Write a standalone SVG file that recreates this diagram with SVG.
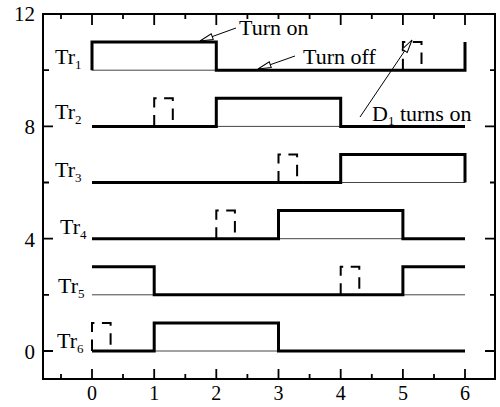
<svg xmlns="http://www.w3.org/2000/svg" width="500" height="407" viewBox="0 0 500 407">
<style>
text{font-family:"Liberation Serif","Times New Roman",serif;fill:#000}
.lbl{font-size:22px}
.sub{font-size:13px}
.num{font-size:21px}
.xnum{font-size:20px;text-anchor:middle}
.ynum{font-size:21px;text-anchor:end}
.ann{font-size:22px}
.wave{fill:none;stroke:#000;stroke-width:3;stroke-linejoin:miter}
.base{fill:none;stroke:#444;stroke-width:1}
.dash{fill:none;stroke:#000;stroke-width:2;stroke-dasharray:11.5 7.5}
.axis{fill:none;stroke:#000;stroke-width:2}
.tick{fill:none;stroke:#000;stroke-width:1.8}
.arrow{fill:none;stroke:#000;stroke-width:1;marker-end:url(#ah)}
</style>
<defs>
<marker id="ah" markerWidth="15" markerHeight="9" refX="14" refY="4.5" orient="auto" markerUnits="userSpaceOnUse">
<path d="M1,1.5 L14,4.5 L1,7.5 Z" fill="#fff" stroke="#000" stroke-width="1"/>
</marker>
</defs>
<rect x="0" y="0" width="500" height="407" fill="#fff"/>

<g id="axes">
<rect class="axis" x="43" y="14" width="452" height="365"/>
<path class="tick" d="M61,14v5 M92,14v11 M123,14v5 M154.2,14v11 M185.3,14v5 M216.3,14v11 M247.4,14v5 M278.5,14v5 M309.6,14v5 M340.7,14v11 M371.8,14v5 M402.9,14v11 M434,14v5 M465,14v11"/>
<path class="tick" d="M61,379v-5 M92,379v-10 M123,379v-5 M154.2,379v-10 M185.3,379v-5 M216.3,379v-10 M247.4,379v-5 M278.5,379v-10 M309.6,379v-5 M340.7,379v-10 M371.8,379v-5 M402.9,379v-10 M434,379v-5 M465,379v-10"/>
<path class="tick" d="M43,70.2h6 M43,126.4h10 M43,182.5h6 M43,238.7h10 M43,294.8h6 M43,351h10"/>
<path class="tick" d="M495,70.2h-5 M495,126.4h-10 M495,182.5h-5 M495,238.7h-10 M495,294.8h-5 M495,351h-10"/>
<text class="ynum" x="35" y="21">12</text>
<text class="ynum" x="35" y="134">8</text>
<text class="ynum" x="35" y="246.5">4</text>
<text class="ynum" x="35" y="358.5">0</text>
<text class="xnum" x="92" y="400">0</text>
<text class="xnum" x="154.2" y="400">1</text>
<text class="xnum" x="216.3" y="400">2</text>
<text class="xnum" x="278.5" y="400">3</text>
<text class="xnum" x="340.7" y="400">4</text>
<text class="xnum" x="402.9" y="400">5</text>
<text class="xnum" x="465" y="400">6</text>
</g>

<g id="Tr1">
<path class="base" d="M92,70.2H465"/>
<path class="wave" d="M92,70.2V42.1H216.3V70.2H465V42.1"/>
<path class="dash" d="M402.9,70.2V42.1H421.5V70.2"/>
<text class="lbl" x="55" y="64">Tr<tspan class="sub" dy="5">1</tspan></text>
</g>
<g id="Tr2">
<path class="base" d="M92,126.4H465"/>
<path class="wave" d="M92,126.4H216.3V98.3H340.7V126.4H465"/>
<path class="dash" d="M154.2,126.4V98.3H172.8V126.4"/>
<text class="lbl" x="55" y="119">Tr<tspan class="sub" dy="5">2</tspan></text>
</g>
<g id="Tr3">
<path class="base" d="M92,182.5H465"/>
<path class="wave" d="M92,182.5H340.7V154.4H465V182.5"/>
<path class="dash" d="M278.5,182.5V154.4H297.1V182.5"/>
<text class="lbl" x="55" y="177">Tr<tspan class="sub" dy="5">3</tspan></text>
</g>
<g id="Tr4">
<path class="base" d="M92,238.7H465"/>
<path class="wave" d="M92,238.7H278.5V210.6H402.9V238.7H465"/>
<path class="dash" d="M216.3,238.7V210.6H234.9V238.7"/>
<text class="lbl" x="60" y="234">Tr<tspan class="sub" dy="5">4</tspan></text>
</g>
<g id="Tr5">
<path class="base" d="M92,294.8H465"/>
<path class="wave" d="M92,266.8H154.2V294.8H402.9V266.8H465"/>
<path class="dash" d="M340.7,294.8V266.8H359.3V294.8"/>
<text class="lbl" x="58" y="292.5">Tr<tspan class="sub" dy="5">5</tspan></text>
</g>
<g id="Tr6">
<path class="base" d="M92,351H465"/>
<path class="wave" d="M92,351H154.2V322.9H278.5V351H465"/>
<path class="dash" d="M92,351V322.9H110.6V351"/>
<text class="lbl" x="57" y="348">Tr<tspan class="sub" dy="5">6</tspan></text>
</g>

<g id="connectors">
<line class="arrow" x1="236" y1="28" x2="200" y2="41"/>
<line class="arrow" x1="295" y1="56" x2="258" y2="69"/>
<line class="arrow" x1="360" y1="117" x2="412" y2="40"/>
</g>
<g id="annotations">
<text class="ann" x="239" y="35">Turn on</text>
<text class="ann" x="303" y="64">Turn off</text>
<text class="ann" x="372" y="121">D<tspan class="sub" dy="4">1</tspan><tspan dy="-4"> turns on</tspan></text>
</g>
</svg>
